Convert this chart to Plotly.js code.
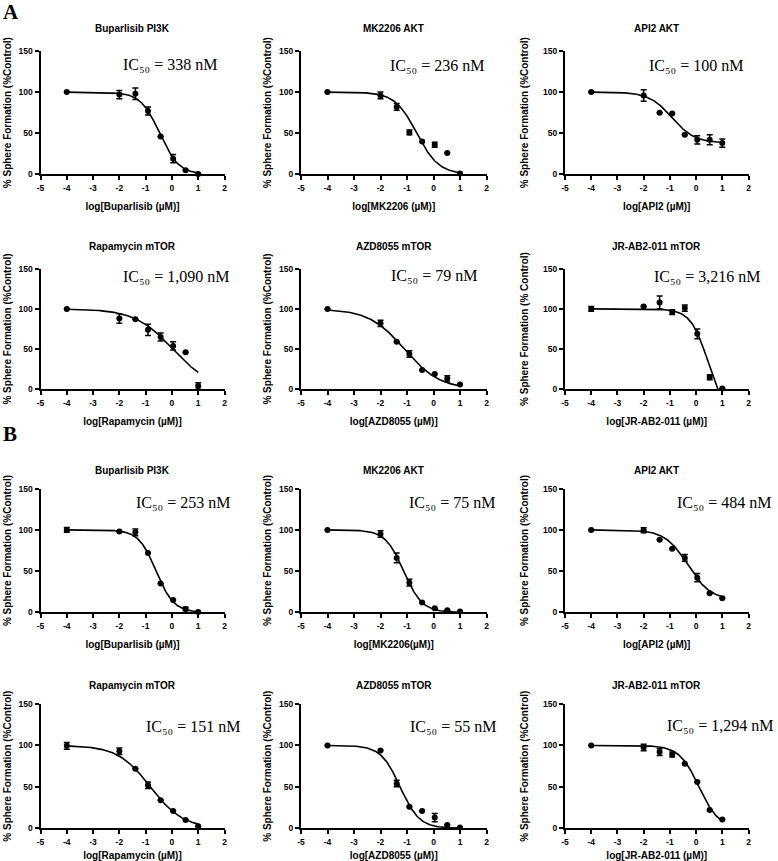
<!DOCTYPE html>
<html><head><meta charset="utf-8">
<script src="https://cdn.plot.ly/plotly-3.0.1.min.js"></script>
<style>body{margin:0;background:#fff}#chart{width:778px;height:861px}</style>
</head><body><div id="chart"></div>
<script>
// ---- data ----
const logDose = [-4, -2, -1.39, -0.91, -0.43, 0.046, 0.52, 1];
const xTickVals = [-5, -4, -3, -2, -1, 0, 1, 2];
const xTickText = ['-5', '-4', '-3', '-2', '-1', '0', '1', '2'];
const yTickVals = [0, 50, 100, 150];
const yTickText = ['0', '50', '100', '150'];

const panelTitles = ['Buparlisib PI3K', 'MK2206 AKT', 'API2 AKT', 'Rapamycin mTOR', 'AZD8055 mTOR', 'JR-AB2-011 mTOR',
                     'Buparlisib PI3K', 'MK2206 AKT', 'API2 AKT', 'Rapamycin mTOR', 'AZD8055 mTOR', 'JR-AB2-011 mTOR'];
const xTitles = ['log[Buparlisib (µM)]', 'log[MK2206 (µM)]', 'log[API2 (µM)]', 'log[Rapamycin (µM)]', 'log[AZD8055 (µM)]', 'log[JR-AB2-011 (µM)]',
                 'log[Buparlisib (µM)]', 'log[MK2206(µM)]', 'log[API2 (µM)]', 'log[Rapamycin (µM)]', 'log[AZD8055 (µM)]', 'log[JR-AB2-011 (µM)]'];
const yTitles = ['% Sphere Formation (%Control)', '% Sphere Formation (%Control)', '% Sphere Formation (%Control)',
                 '% Sphere Formation (%Control)', '% Sphere Formation (%Control)', '% Sphere Formation (% Control)',
                 '% Sphere Formation (%Control)', '% Sphere Formation (%Control)', '% Sphere Formation (%Control)',
                 '% Sphere Formation (%Control)', '% Sphere Formation (%Control)', '% Sphere Formation (%Control)'];
const ic50Values = ['338 nM', '236 nM', '100 nM', '1,090 nM', '79 nM', '3,216 nM',
                    '253 nM', '75 nM', '484 nM', '151 nM', '55 nM', '1,294 nM'];
const panelLetters = ['A', 'B'];

// mean % sphere formation
const a1Mean = [100, 97, 98, 77, 46, 19, 5, 0.5];
const a2Mean = [100, 96, 82, 51, 40, 36, 26, 1];
const a3Mean = [100, 96, 75, 74, 48, 42, 42, 38];
const a4Mean = [100, 88, 87, 74, 65, 54, 46, 4];
const a5Mean = [100, 82, 59, 44, 24, 19, 13, 6];
const a6Mean = [100, 103, 108, 96, 101, 69, 15, 1];
const b1Mean = [100, 98, 97, 72, 35, 15, 4, 0.5];
const b2Mean = [100, 95, 66, 36, 12, 5, 2.5, 1];
const b3Mean = [100, 99.5, 88, 77, 66, 42, 23, 17];
const b4Mean = [99.5, 93, 72, 52, 34, 21, 10, 2.5];
const b5Mean = [100, 94, 54, 26, 21, 13, 4, 1];
const b6Mean = [100, 97.5, 92, 89, 78, 56, 22, 10.5];
// error bars (SEM)
const a1Err = [0, 5, 7, 5, 0, 5, 0, 0];
const a2Err = [0, 4, 4, 3, 0, 3, 0, 0];
const a3Err = [0, 7, 0, 0, 0, 5, 6, 5];
const a4Err = [0, 6, 0, 7, 5, 5, 0, 4];
const a5Err = [0, 4, 0, 4, 0, 0, 4, 0];
const a6Err = [3, 0, 8, 3, 4, 6, 3, 0];
const b1Err = [3, 0, 4, 0, 0, 0, 2, 0];
const b2Err = [0, 4, 6, 4, 0, 0, 0, 0];
const b3Err = [0, 3, 0, 0, 4, 5, 0, 0];
const b4Err = [4, 4, 0, 4, 0, 0, 0, 0];
const b5Err = [0, 0, 4, 0, 0, 5, 0, 0];
const b6Err = [0, 4, 4, 3, 0, 0, 0, 0];
// four-parameter fit of each panel (top, bottom, log midpoint, Hill slope)
const fitTop    = [100, 100, 100, 100, 100, 100, 100, 100, 100, 100, 100, 100];
const fitBottom = [0, 0, 38, 0, 0, -40, 0, 0, 15, 0, 0, 0];
const fitLogMid = [-0.47, -0.63, -0.92, 0.037, -1.1, 0.49, -0.6, -1.125, -0.315, -0.82, -1.26, 0.112];
const fitHill   = [1.2, 1.05, 1.0, 0.6, 0.65, 1.28, 1.3, 1.25, 1.0, 0.7, 1.2, 1.15];

const means = [a1Mean, a2Mean, a3Mean, a4Mean, a5Mean, a6Mean, b1Mean, b2Mean, b3Mean, b4Mean, b5Mean, b6Mean];
const errs  = [a1Err, a2Err, a3Err, a4Err, a5Err, a6Err, b1Err, b2Err, b3Err, b4Err, b5Err, b6Err];

// ---- layout geometry (pixels) ----
const W = 778, H = 861;
const colX = [[40.5, 224.5], [301, 486.5], [565, 748.5]];
const rowY = [[51, 174.3], [268.7, 389.3], [488.7, 612.3], [704, 828.3]];
const icPos = [[120.7, 64], [387.7, 65], [647.3, 65], [120.7, 276.3], [389, 275.3], [652.3, 276.3],
               [134.3, 502.3], [407, 502], [674.7, 502.3], [144.3, 726], [408.3, 726], [665, 725]];
const titleY = [29, 246.7, 470.7, 685.7];
const yTitleStandoff = [5, 6, 12.5];
const letterPos = [[11, 12], [10, 434]];

const SANS = 'Liberation Sans, Arial, sans-serif';
const SERIF = 'Liberation Serif, DejaVu Serif, Times New Roman, serif';
const px = v => v / W;
const py = v => 1 - v / H;

const traces = [];
const layout = {
  width: W, height: H, autosize: false,
  margin: {l: 0, r: 0, t: 0, b: 0},
  paper_bgcolor: 'white', plot_bgcolor: 'white',
  showlegend: false,
  annotations: []
};

for (let i = 0; i < 12; i++) {
  const r = Math.floor(i / 3), c = i % 3;
  const n = i + 1;
  const xa = 'x' + (n === 1 ? '' : n), ya = 'y' + (n === 1 ? '' : n);
  const xKey = 'xaxis' + (n === 1 ? '' : n), yKey = 'yaxis' + (n === 1 ? '' : n);

  // fitted curve
  const cx = [], cy = [];
  for (let k = 0; k <= 250; k++) {
    const x = logDose[0] + (logDose[logDose.length - 1] - logDose[0]) * k / 250;
    cx.push(x);
    cy.push(fitBottom[i] + (fitTop[i] - fitBottom[i]) / (1 + Math.pow(10, (x - fitLogMid[i]) * fitHill[i])));
  }
  traces.push({x: cx, y: cy, xaxis: xa, yaxis: ya, mode: 'lines', type: 'scatter',
               line: {color: 'black', width: 1.6}, hoverinfo: 'skip'});
  traces.push({x: logDose, y: means[i], xaxis: xa, yaxis: ya, mode: 'markers', type: 'scatter',
               cliponaxis: false,
               marker: {color: 'black', size: 6},
               error_y: {type: 'data', array: errs[i], visible: true, color: 'black', thickness: 1.5, width: 3}});

  const tf = {family: SANS, size: 8.5, color: 'black', weight: 700};
  const titleFont = {family: SANS, size: 10, color: 'black', weight: 700};
  layout[xKey] = {
    domain: [px(colX[c][0]), px(colX[c][1])], anchor: ya,
    range: [-5, 2], tickvals: xTickVals, ticktext: xTickText,
    showline: true, linecolor: 'black', linewidth: 2,
    ticks: 'outside', ticklen: 4, tickwidth: 2, tickcolor: 'black',
    showgrid: false, zeroline: false, tickfont: tf,
    title: {text: xTitles[i], font: titleFont, standoff: 11}
  };
  layout[yKey] = {
    domain: [py(rowY[r][1]), py(rowY[r][0])], anchor: xa,
    range: [0, 150], tickvals: yTickVals, ticktext: yTickText,
    showline: true, linecolor: 'black', linewidth: 2,
    ticks: 'outside', ticklen: 4, tickwidth: 2, tickcolor: 'black',
    showgrid: false, zeroline: false, tickfont: tf,
    title: {text: yTitles[i], font: titleFont, standoff: yTitleStandoff[c]}
  };

  layout.annotations.push({
    xref: 'paper', yref: 'paper', x: px((colX[c][0] + colX[c][1]) / 2), y: py(titleY[r]),
    xanchor: 'center', yanchor: 'middle', showarrow: false, text: panelTitles[i],
    font: titleFont
  });
  layout.annotations.push({
    xref: 'paper', yref: 'paper', x: px(icPos[i][0]), y: py(icPos[i][1]),
    xanchor: 'left', yanchor: 'middle', showarrow: false,
    text: 'IC\u2085\u2080 = ' + ic50Values[i],
    font: {family: SERIF, size: 16, color: 'black'}
  });
}
panelLetters.forEach((L, j) => {
  layout.annotations.push({
    xref: 'paper', yref: 'paper', x: px(letterPos[j][0]), y: py(letterPos[j][1]),
    xanchor: 'center', yanchor: 'middle', showarrow: false, text: L,
    font: {family: SERIF, size: 21, color: 'black', weight: 700}
  });
});

Plotly.newPlot('chart', traces, layout, {staticPlot: true, displayModeBar: false});
</script>
</body></html>
